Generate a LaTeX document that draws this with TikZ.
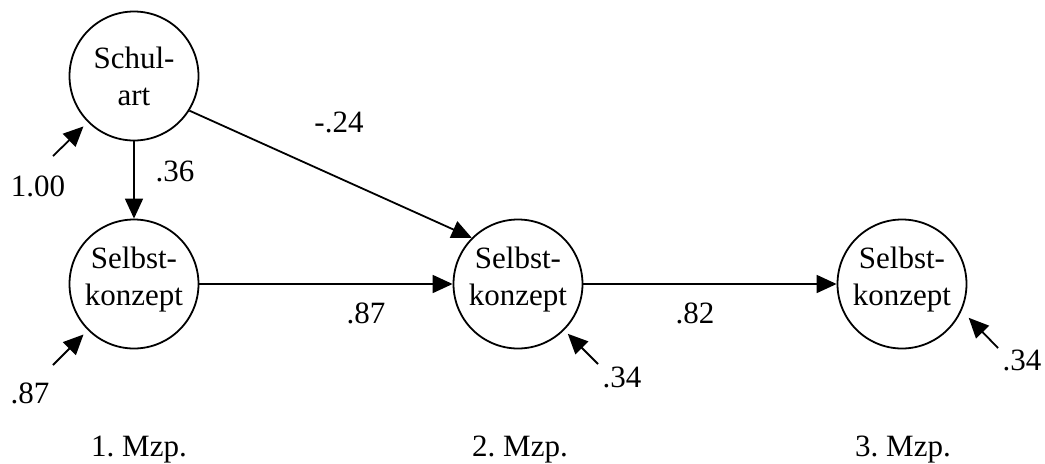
\documentclass[tikz,border=0pt]{standalone}
\usepackage{fontspec}
\setmainfont{Liberation Serif}
\usetikzlibrary{arrows.meta}

\begin{document}
\begin{tikzpicture}[x=0.5pt,y=0.5pt,>={Triangle[length=10pt,width=9pt]},
  font=\fontsize{15.5pt}{18.5pt}\selectfont,line width=0.9pt,
  var/.style={circle,draw,minimum size=64.5pt,inner sep=0pt,align=center},
  selbst/.style={var,text depth=8pt},
  coef/.style={inner sep=0pt}]
 \useasboundingbox (0,0) rectangle (1045,463);
 % latent variables
 \node[var] (schulart) at (134,387) {Schul-\\art};
 \node[selbst] (sk1) at (134,179) {Selbst-\\konzept};
 \node[selbst] (sk2) at (518,179) {Selbst-\\konzept};
 \node[selbst] (sk3) at (902,179) {Selbst-\\konzept};
 % paths
 \draw[->] (schulart.south) -- (sk1.north);
 \draw[->] (schulart.-32) -- (sk2.135);
 \draw[->] (sk1.east) -- (sk2.west);
 \draw[->] (sk2.east) -- (sk3.west);
 \node[coef] (c1) at (175,292) {.36};
 \node[coef] (c2) at (339,341) {-.24};
 \node[coef] (c3) at (366,150) {.87};
 \node[coef] (c4) at (695,150) {.82};
 % residuals
 \coordinate (e1) at (53,307);
 \coordinate (e2) at (53,98);
 \coordinate (e3) at (598,99);
 \coordinate (e4) at (998,115);
 \draw[->,shorten >=3pt] (e1) -- (schulart.225);
 \draw[->,shorten >=3pt] (e2) -- (sk1.225);
 \draw[->,shorten >=2.5pt] (e3) -- (sk2.-45);
 \draw[->,shorten >=5pt] (e4) -- (sk3.-24);
 \node[coef] (r1) at (38,277) {1.00};
 \node[coef] (r2) at (30,70) {.87};
 \node[coef] (r3) at (622,86) {.34};
 \node[coef] (r4) at (1022,103) {.34};
 % time points
 \foreach \x/\i in {139/1,520/2,903/3}
  \node[anchor=base] (mzp\i) at (\x,7) {\i.\ Mzp.};
\end{tikzpicture}
\end{document}
